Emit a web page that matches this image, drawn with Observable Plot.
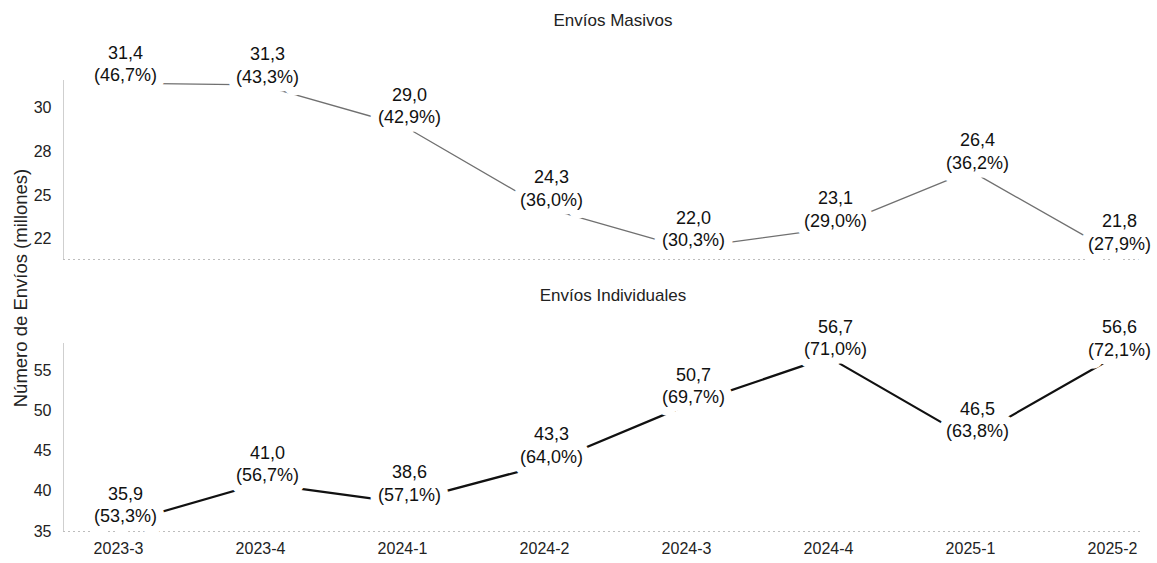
<!DOCTYPE html>
<html><head><meta charset="utf-8">
<script src="https://cdn.jsdelivr.net/npm/d3@7"></script>
<script src="https://cdn.jsdelivr.net/npm/@observablehq/plot@0.6"></script>
<style>
body{margin:0;background:#fff;font-family:"Liberation Sans",Arial,sans-serif;}
#wrap{position:relative;width:1157px;height:563px;background:#fff;}
#ylab{position:absolute;left:21px;top:288px;transform:translate(-50%,-50%) rotate(-90deg);font-size:18.5px;white-space:nowrap;color:#222;z-index:2;}
svg{display:block;overflow:visible}
</style></head><body><div id="wrap"><div id="ylab">Número de Envíos (millones)</div></div>
<script>
const quarters = ["2023-3","2023-4","2024-1","2024-2","2024-3","2024-4","2025-1","2025-2"];
const masivos = [31.4, 31.3, 29.0, 24.3, 22.0, 23.1, 26.4, 21.8];
const masivosPct = [46.7, 43.3, 42.9, 36.0, 30.3, 29.0, 36.2, 27.9];
const individuales = [35.9, 41.0, 38.6, 43.3, 50.7, 56.7, 46.5, 56.6];
const individualesPct = [53.3, 56.7, 57.1, 64.0, 69.7, 71.0, 63.8, 72.1];
const masivosTicks = [22.5, 25, 27.5, 30];
const masivosTickLabels = ["22", "25", "28", "30"];
const individualesTicks = [35, 40, 45, 50, 55];
const individualesTickLabels = ["35", "40", "45", "50", "55"];
const titles = ["Envíos Masivos", "Envíos Individuales"];

const fmt = v => v.toFixed(1).replace(".", ",");
function rows(vals, pcts) {
  return quarters.map((q, i) => ({q, v: vals[i], label: `${fmt(vals[i])}\n(${fmt(pcts[i])}%)`}));
}
const font = "'Liberation Sans', Arial, sans-serif";

function panel(o) {
  const labelOpts = {x: "q", y: "v", text: "label", lineAnchor: "bottom", dx: 7, dy: -2,
    fontSize: 18, lineHeight: 1.25};
  return Plot.plot({
    width: 1157, height: o.height, marginTop: o.marginTop, marginBottom: o.marginBottom,
    marginLeft: 63, marginRight: 15,
    style: {fontFamily: font, fontSize: "16px", color: "#222", background: "white", overflow: "visible"},
    x: {type: "point", domain: quarters, range: [117, 1112], padding: 0, axis: null, label: null},
    y: {domain: o.domain, axis: null, label: null},
    marks: [
      Plot.frame({anchor: "left", stroke: "#cfcfcf"}),
      Plot.ruleY([o.domain[0]], {stroke: "#bdbdbd", strokeDasharray: "2,3"}),
      Plot.axisY(o.ticks, {tickSize: 0, tickPadding: 12, fontSize: 16, label: null,
        tickFormat: d => o.tickLabels[o.ticks.indexOf(d)]}),
      o.showX ? Plot.axisX({tickSize: 0, tickPadding: 11, fontSize: 16, fill: "#222", label: null}) : null,
      Plot.line(o.data, {x: "q", y: "v", stroke: o.lineColor, strokeWidth: o.lineWidth}),
      Plot.text(o.data, {...labelOpts, fill: "white", stroke: "white", strokeWidth: 17, strokeLinejoin: "round"}),
      Plot.text(o.data, {...labelOpts, fill: "#111"}),
      Plot.text([o.title], {frameAnchor: "top", lineAnchor: "middle", dy: o.titleDy, dx: 10,
        fontSize: 17, fill: "#222"})
    ]
  });
}

const wrap = document.getElementById("wrap");
wrap.appendChild(panel({
  data: rows(masivos, masivosPct), title: titles[0], domain: [21.35, 31.55],
  ticks: masivosTicks, tickLabels: masivosTickLabels,
  height: 280, marginTop: 80, marginBottom: 21, lineColor: "#707070", lineWidth: 1.3,
  showX: false, titleDy: -60
}));
wrap.appendChild(panel({
  data: rows(individuales, individualesPct), title: titles[1], domain: [35, 58.4],
  ticks: individualesTicks, tickLabels: individualesTickLabels,
  height: 283, marginTop: 63, marginBottom: 32, lineColor: "#111", lineWidth: 2.2,
  showX: true, titleDy: -48
}));
</script></body></html>
